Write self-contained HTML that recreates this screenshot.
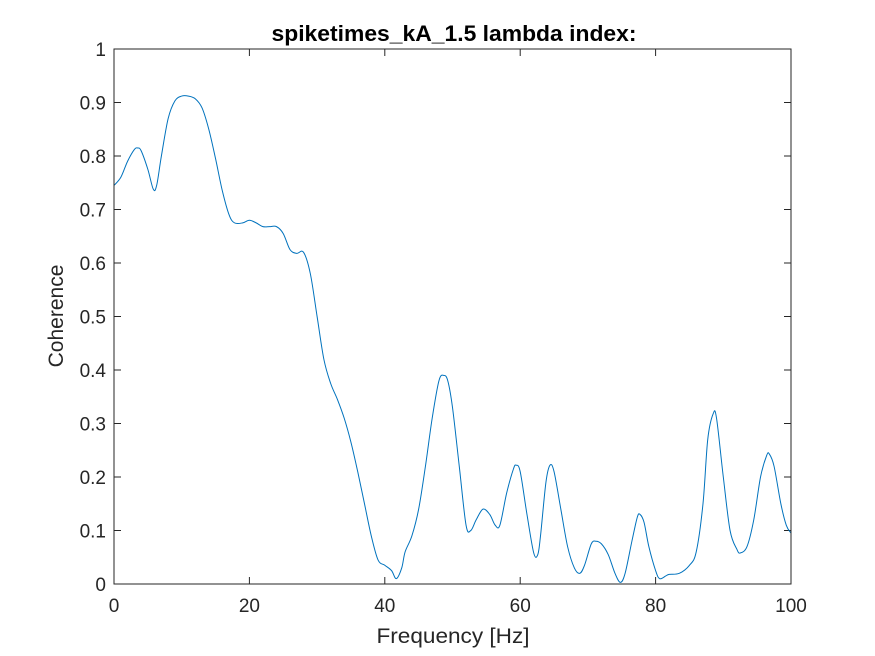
<!DOCTYPE html>
<html><head><meta charset="utf-8"><style>
body{margin:0;background:#fff;}
svg{display:block;font-family:"Liberation Sans",Arial,sans-serif;}
</style></head><body>
<svg id="chart" width="875" height="656" viewBox="0 0 875 656">
<rect x="0" y="0" width="875" height="656" fill="#fff"/>
<rect x="114" y="49" width="677" height="535" fill="#fff"/>
<g id="ticks"></g>
<path id="line" fill="none" stroke="#0072BD" stroke-width="1"/>
<rect x="114" y="49" width="677" height="535" fill="none" stroke="#262626" stroke-width="1"/>
<text x="454" y="41" text-anchor="middle" font-size="22" font-weight="bold" fill="#000" textLength="365" lengthAdjust="spacingAndGlyphs">spiketimes_kA_1.5 lambda index:</text>
<text x="453" y="643" text-anchor="middle" font-size="21" fill="#262626" textLength="153" lengthAdjust="spacingAndGlyphs">Frequency [Hz]</text>
<text transform="translate(63,316) rotate(-90)" text-anchor="middle" font-size="21" fill="#262626">Coherence</text>
</svg>
<script>
const freqs=[0,1,2,3,3.5,4,5,5.8,6.3,7,8,9,10,11,12,13,14,15,16,17,17.8,19,20,21,22,23,24,25,26,27,28,29,30,31,32,33,34,35,36,37,38,39,40,41,41.7,42.5,43,44,45,46,47,48,48.7,49.3,50,51,52,52.7,53.5,54.5,55.5,56.3,57,58,59,59.4,60,61,62,62.6,63,63.8,64.4,65,66,67,68,68.8,69.5,70.5,71.2,72,73,74,74.8,75.5,76.5,77.3,77.7,78.3,79,80,80.6,81.5,82,83.5,85,86,87,87.7,88.5,89,90,91,92,92.5,93.5,94.5,95.5,96.4,96.8,97.5,98.5,99.3,100];
const coherence=[0.745,0.76,0.79,0.812,0.815,0.81,0.775,0.738,0.745,0.8,0.87,0.903,0.912,0.912,0.907,0.89,0.85,0.795,0.735,0.69,0.675,0.675,0.68,0.675,0.668,0.668,0.668,0.655,0.625,0.618,0.62,0.58,0.5,0.42,0.375,0.345,0.31,0.265,0.21,0.15,0.09,0.045,0.035,0.025,0.01,0.03,0.06,0.09,0.14,0.22,0.31,0.38,0.39,0.38,0.33,0.22,0.11,0.1,0.12,0.14,0.13,0.11,0.11,0.17,0.215,0.222,0.21,0.13,0.058,0.055,0.09,0.19,0.222,0.21,0.14,0.07,0.03,0.02,0.035,0.075,0.08,0.075,0.055,0.02,0.003,0.02,0.08,0.125,0.13,0.115,0.07,0.025,0.01,0.015,0.018,0.02,0.035,0.06,0.15,0.27,0.318,0.31,0.2,0.1,0.065,0.058,0.07,0.12,0.2,0.24,0.243,0.22,0.15,0.11,0.095];
const xTicks=[0,20,40,60,80,100];
const yTicks=[0,0.1,0.2,0.3,0.4,0.5,0.6,0.7,0.8,0.9,1];
const yTickLabels=["0","0.1","0.2","0.3","0.4","0.5","0.6","0.7","0.8","0.9","1"];
const X0=114,X1=791,Y0=584,Y1=49;
const sx=f=>X0+(f-0)/(100-0)*(X1-X0);
const sy=v=>Y0-(v-0)/(1-0)*(Y0-Y1);
const NS="http://www.w3.org/2000/svg";
const g=document.getElementById('ticks');
function mk(tag,attrs){const e=document.createElementNS(NS,tag);for(const k in attrs)e.setAttribute(k,attrs[k]);return e;}
xTicks.forEach(t=>{
  const x=sx(t);
  const l1=mk('line',{x1:x,y1:Y0,x2:x,y2:Y0-7,stroke:'#262626'});
  
  
  g.appendChild(l1);
  const l2=mk('line',{x1:x,y1:Y1,x2:x,y2:Y1+7,stroke:'#262626'});
  
  
  g.appendChild(l2);
  const tx=mk('text',{x:x,y:612,'text-anchor':'middle','font-size':'19',fill:'#262626'});
  tx.textContent=String(t);
  
  
  g.appendChild(tx);
});
yTicks.forEach((t,i)=>{
  const y=sy(t);
  const l1=mk('line',{x1:X0,y1:y,x2:X0+7,y2:y,stroke:'#262626'});
  
  
  g.appendChild(l1);
  const l2=mk('line',{x1:X1,y1:y,x2:X1-7,y2:y,stroke:'#262626'});
  
  
  g.appendChild(l2);
  const tx=mk('text',{x:106,y:y+7,'text-anchor':'end','font-size':'19',fill:'#262626'});
  tx.textContent=yTickLabels[i];
  
  
  g.appendChild(tx);
});
const P=freqs.map((f,i)=>[sx(f),sy(coherence[i])]);
let d='M'+P[0][0].toFixed(2)+','+P[0][1].toFixed(2);
for(let i=0;i<P.length-1;i++){
  const p0=P[Math.max(0,i-1)],p1=P[i],p2=P[i+1],p3=P[Math.min(P.length-1,i+2)];
  const c1=[p1[0]+(p2[0]-p0[0])/6,p1[1]+(p2[1]-p0[1])/6];
  const c2=[p2[0]-(p3[0]-p1[0])/6,p2[1]-(p3[1]-p1[1])/6];
  d+=' C'+c1[0].toFixed(2)+','+c1[1].toFixed(2)+' '+c2[0].toFixed(2)+','+c2[1].toFixed(2)+' '+p2[0].toFixed(2)+','+p2[1].toFixed(2);
}
document.getElementById('line').setAttribute('d',d);
</script>
</body></html>
